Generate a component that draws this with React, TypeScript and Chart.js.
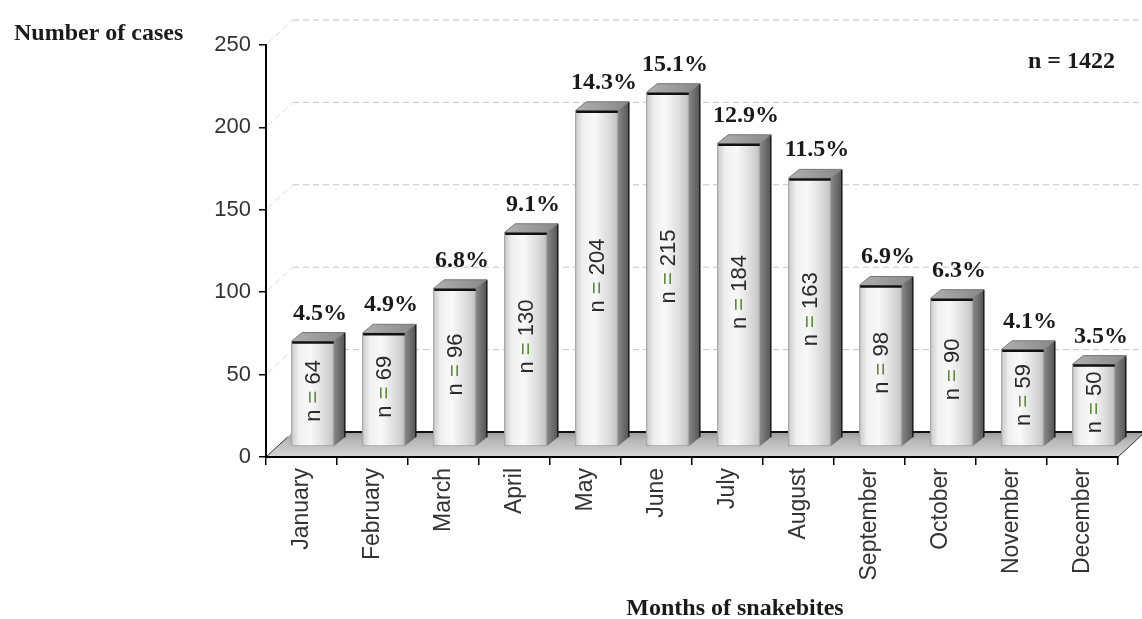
import { useEffect, useRef } from 'react';
import { Chart, registerables } from 'chart.js';

Chart.register(...registerables);

const months = ['January', 'February', 'March', 'April', 'May', 'June', 'July', 'August', 'September', 'October', 'November', 'December'];
const cases = [64, 69, 96, 130, 204, 215, 184, 163, 98, 90, 59, 50];
const percents = ['4.5%', '4.9%', '6.8%', '9.1%', '14.3%', '15.1%', '12.9%', '11.5%', '6.9%', '6.3%', '4.1%', '3.5%'];
const yTickValues = [0, 50, 100, 150, 200, 250];
const totalLabel = 'n = 1422';
const yTitle = 'Number of cases';
const xTitle = 'Months of snakebites';

// 3D geometry (pixels)
const WALL = { dx: 27, dy: -25 };
const FRONT = { dx: 11, dy: -10 };
const DEPTH = { dx: 11, dy: -9 };

const SERIF = '"Liberation Serif", "Times New Roman", serif';
const SANS = '"Liberation Sans", Arial, sans-serif';

const scenePlugin = {
  id: 'scene3d',
  beforeDraw(chart: any) {
    const { ctx, chartArea, scales } = chart;
    const yS = scales.y;
    const L = chartArea.left, R = chartArea.right, B = chartArea.bottom;
    ctx.save();
    ctx.fillStyle = '#ffffff';
    ctx.fillRect(0, 0, chart.width, chart.height);
    // back wall gridlines + diagonals
    ctx.setLineDash([6, 4]);
    ctx.lineWidth = 1;
    yTickValues.forEach((v) => {
      if (v === 0) return;
      const yp = yS.getPixelForValue(v);
      ctx.strokeStyle = '#c4c4c4';
      ctx.beginPath();
      ctx.moveTo(L + WALL.dx, yp + WALL.dy);
      ctx.lineTo(chart.width, yp + WALL.dy);
      ctx.stroke();
      ctx.strokeStyle = '#d8d8d8';
      ctx.beginPath();
      ctx.moveTo(L + 2, yp - 2);
      ctx.lineTo(L + WALL.dx, yp + WALL.dy);
      ctx.stroke();
    });
    ctx.setLineDash([]);
    // floor
    const fg = ctx.createLinearGradient(0, B + WALL.dy, 0, B);
    fg.addColorStop(0, '#9a9a9a');
    fg.addColorStop(0.35, '#b8b8b8');
    fg.addColorStop(1, '#d6d6d6');
    ctx.fillStyle = fg;
    ctx.beginPath();
    ctx.moveTo(L, B);
    ctx.lineTo(L + WALL.dx, B + WALL.dy);
    ctx.lineTo(R + WALL.dx, B + WALL.dy);
    ctx.lineTo(R, B);
    ctx.closePath();
    ctx.fill();
    ctx.strokeStyle = '#111';
    ctx.lineWidth = 2;
    ctx.beginPath();
    ctx.moveTo(L + WALL.dx, B + WALL.dy);
    ctx.lineTo(chart.width, B + WALL.dy);
    ctx.stroke();
    ctx.lineWidth = 1;
    ctx.strokeStyle = '#333';
    ctx.beginPath();
    ctx.moveTo(L, B);
    ctx.lineTo(L + WALL.dx * 0.8, B + WALL.dy * 0.8);
    ctx.moveTo(R, B);
    ctx.lineTo(R + WALL.dx, B + WALL.dy);
    ctx.stroke();
    ctx.restore();
  },
  afterDatasetsDraw(chart: any) {
    const { ctx } = chart;
    const meta = chart.getDatasetMeta(0);
    ctx.save();
    meta.data.forEach((el: any, i: number) => {
      const p = el.getProps(['x', 'y', 'base', 'width'], true);
      const left = p.x - p.width / 2 + FRONT.dx;
      const right = p.x + p.width / 2 + FRONT.dx;
      const top = p.y + FRONT.dy;
      const bottom = p.base + FRONT.dy;
      // side face
      const sg = ctx.createLinearGradient(right, 0, right + DEPTH.dx, 0);
      sg.addColorStop(0, '#888888');
      sg.addColorStop(1, '#555555');
      ctx.fillStyle = sg;
      ctx.beginPath();
      ctx.moveTo(right, top);
      ctx.lineTo(right + DEPTH.dx, top + DEPTH.dy);
      ctx.lineTo(right + DEPTH.dx, bottom + DEPTH.dy);
      ctx.lineTo(right, bottom);
      ctx.closePath();
      ctx.fill();
      ctx.strokeStyle = '#1a1a1a';
      ctx.lineWidth = 1.5;
      ctx.beginPath();
      ctx.moveTo(right + DEPTH.dx, top + DEPTH.dy);
      ctx.lineTo(right + DEPTH.dx, bottom + DEPTH.dy);
      ctx.stroke();
      // top face
      const tg = ctx.createLinearGradient(left, 0, right + DEPTH.dx, 0);
      tg.addColorStop(0, '#b0b0b0');
      tg.addColorStop(1, '#888888');
      ctx.fillStyle = tg;
      ctx.beginPath();
      ctx.moveTo(left, top);
      ctx.lineTo(left + DEPTH.dx, top + DEPTH.dy);
      ctx.lineTo(right + DEPTH.dx, top + DEPTH.dy);
      ctx.lineTo(right, top);
      ctx.closePath();
      ctx.fill();
      ctx.strokeStyle = '#777';
      ctx.lineWidth = 1;
      ctx.stroke();
      // front face
      const g = ctx.createLinearGradient(left, 0, right, 0);
      g.addColorStop(0, '#c8c8c8');
      g.addColorStop(0.18, '#efefef');
      g.addColorStop(0.45, '#f9f9f9');
      g.addColorStop(0.8, '#dadada');
      g.addColorStop(1, '#c2c2c2');
      ctx.fillStyle = g;
      ctx.fillRect(left, top, right - left, bottom - top);
      ctx.strokeStyle = '#a0a0a0';
      ctx.lineWidth = 1;
      ctx.strokeRect(left + 0.5, top + 0.5, right - left - 1, bottom - top - 1);
      ctx.strokeStyle = '#111';
      ctx.lineWidth = 2.5;
      ctx.beginPath();
      ctx.moveTo(left + 1, top + 1);
      ctx.lineTo(right, top + 1);
      ctx.stroke();

      // n = value label (rotated)
      const cx = (left + right) / 2;
      const cy = (top + bottom) / 2 - 3;
      ctx.save();
      ctx.translate(cx, cy);
      ctx.rotate(-Math.PI / 2);
      ctx.font = `22px ${SANS}`;
      ctx.textBaseline = 'middle';
      ctx.textAlign = 'left';
      const parts = [
        { t: 'n ', c: '#2a2a2a' },
        { t: '=', c: '#5f8a3c' },
        { t: ' ' + cases[i], c: '#2a2a2a' },
      ];
      const total = parts.reduce((s, q) => s + ctx.measureText(q.t).width, 0);
      let xx = -total / 2;
      parts.forEach((q) => {
        ctx.fillStyle = q.c;
        ctx.fillText(q.t, xx, 1);
        xx += ctx.measureText(q.t).width;
      });
      ctx.restore();

      // percent label
      ctx.font = `bold 24px ${SERIF}`;
      ctx.fillStyle = '#1a1a1a';
      ctx.textAlign = 'center';
      ctx.textBaseline = 'alphabetic';
      ctx.fillText(percents[i], cx + DEPTH.dx / 2 + 2, top + DEPTH.dy - 13);
    });
    ctx.restore();
  },
  afterDraw(chart: any) {
    const { ctx } = chart;
    ctx.save();
    ctx.fillStyle = '#1a1a1a';
    ctx.textBaseline = 'alphabetic';
    ctx.font = `bold 24px ${SERIF}`;
    ctx.textAlign = 'left';
    ctx.fillText(yTitle, 14, 40);
    ctx.textAlign = 'right';
    ctx.fillText(totalLabel, 1115, 68);
    ctx.textAlign = 'center';
    ctx.fillText(xTitle, 735, 615);
    ctx.restore();
  },
};

export default function App() {
  const ref = useRef<HTMLCanvasElement | null>(null);
  useEffect(() => {
    if (!ref.current) return;
    const chart = new Chart(ref.current, {
      type: 'bar',
      data: {
        labels: months,
        datasets: [
          {
            data: cases,
            backgroundColor: 'rgba(0,0,0,0)',
            borderWidth: 0,
            barPercentage: 0.6,
            categoryPercentage: 1,
          },
        ],
      },
      options: {
        responsive: false,
        animation: false,
        layout: { padding: { left: 0, right: 24, top: 45, bottom: 0 } },
        plugins: { legend: { display: false }, tooltip: { enabled: false }, title: { display: false } },
        scales: {
          x: {
            offset: true,
            grid: { display: true, drawOnChartArea: false, drawTicks: true, tickLength: 8, color: '#000', lineWidth: 1.5, offset: true },
            border: { display: true, color: '#000', width: 2 },
            ticks: { minRotation: 90, maxRotation: 90, padding: 3, color: '#333', font: { family: SANS, size: 23 } },
            afterFit: (s: any) => { s.height = 162; },
          },
          y: {
            min: 0,
            max: 250,
            grid: { display: true, drawOnChartArea: false, drawTicks: true, tickLength: 7, color: '#000', lineWidth: 1.5 },
            border: { display: true, color: '#000', width: 2 },
            ticks: { stepSize: 50, padding: 8, color: '#333', font: { family: SANS, size: 22 } },
            afterFit: (s: any) => { s.width = 266; },
          },
        },
      },
      plugins: [scenePlugin],
    });
    return () => chart.destroy();
  }, []);
  return (
    <div style={{ position: 'absolute', left: 0, top: 0, width: 1142, height: 619, background: '#fff' }}>
      <canvas ref={ref} width={1142} height={619} style={{ display: 'block' }} />
    </div>
  );
}
